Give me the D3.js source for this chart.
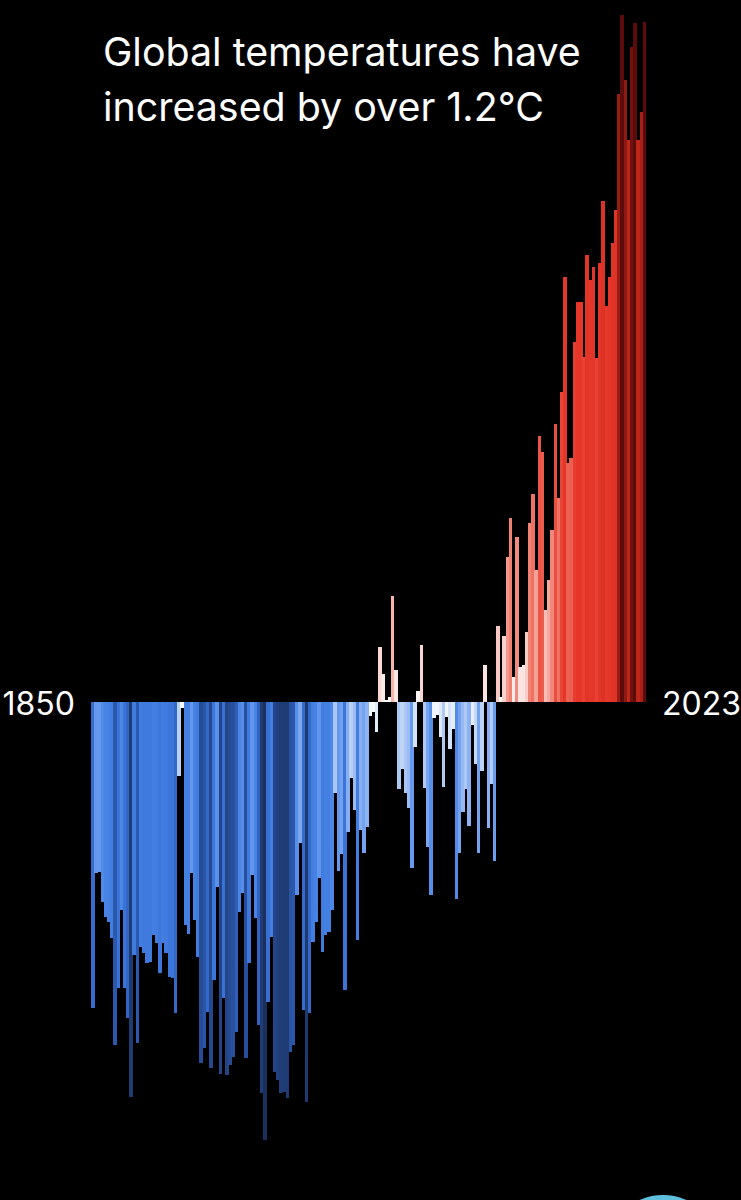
<!DOCTYPE html>
<html>
<head>
<meta charset="utf-8">
<script src="https://cdn.jsdelivr.net/npm/d3@7"></script>
<style>
  html, body { margin: 0; padding: 0; background: #000; }
  svg { display: block; }
</style>
</head>
<body>
<svg id="chart" width="741" height="1200"></svg>
<script>
// ---- data (HadCRUT-style annual global temperature anomaly, °C) ----
const firstYear = 1850;
const lastYear = 2023;
const years = d3.range(firstYear, lastYear + 1);
const anomalies = [
  -0.419, -0.234, -0.233, -0.274, -0.295, -0.301, -0.323, -0.470, -0.392, -0.285,
  -0.392, -0.433, -0.541, -0.347, -0.467, -0.336, -0.344, -0.358, -0.356, -0.319,
  -0.330, -0.371, -0.330, -0.344, -0.377, -0.378, -0.426, -0.101, -0.008, -0.305,
  -0.318, -0.234, -0.299, -0.349, -0.495, -0.474, -0.425, -0.501, -0.381, -0.253,
  -0.510, -0.405, -0.511, -0.497, -0.486, -0.452, -0.288, -0.262, -0.488, -0.358,
  -0.237, -0.296, -0.442, -0.536, -0.600, -0.411, -0.322, -0.507, -0.518, -0.536,
  -0.534, -0.542, -0.479, -0.470, -0.264, -0.193, -0.422, -0.548, -0.426, -0.329,
  -0.301, -0.241, -0.342, -0.319, -0.315, -0.285, -0.125, -0.232, -0.208, -0.395,
  -0.178, -0.104, -0.148, -0.326, -0.175, -0.207, -0.171, -0.019, -0.014, -0.041,
   0.075,  0.038,  0.003,  0.007,  0.145,  0.044, -0.119, -0.092, -0.125, -0.145,
  -0.227, -0.062,  0.015,  0.078, -0.118, -0.199, -0.264, -0.022, -0.018, -0.048,
  -0.116, -0.021, -0.064, -0.037, -0.270, -0.207, -0.151, -0.119, -0.170, -0.032,
  -0.085, -0.207, -0.095,  0.051, -0.173, -0.112, -0.218,  0.104,  0.007,  0.090,
   0.199,  0.252,  0.034,  0.226,  0.048,  0.051,  0.096,  0.245,  0.285,  0.181,
   0.364,  0.342,  0.126,  0.167,  0.236,  0.381,  0.279,  0.425,  0.582,  0.327,
   0.334,  0.493,  0.548,  0.548,  0.473,  0.612,  0.578,  0.596,  0.471,  0.601,
   0.686,  0.542,  0.582,  0.629,  0.674,  0.833,  0.941,  0.852,  0.770,  0.897,
   0.930,  0.770,  0.808,  0.932
];
const titleLines = ["Global temperatures have", "increased by over 1.2°C"];
const endLabels = [String(firstYear), String(lastYear)];

// colour stops (value in °C -> colour)
const colorStops = [-0.60, -0.52, -0.47, -0.40, -0.30, -0.22, -0.12, -0.05, 0,
                     0.05, 0.10, 0.20, 0.30, 0.40, 0.55, 0.70, 0.78, 0.85, 0.93];
const colorRange = ["#1b2f5c", "#213f7c", "#2b58ad", "#3a73d8", "#4682e4", "#6a9cef", "#adc8f4", "#dde8fa", "#ffffff",
                    "#fbe3e0", "#f8cbc5", "#f3978b", "#ee6a5b", "#e9483a", "#e6372a", "#dc3226", "#b82419", "#8e1a13", "#5c0c0b"];

// ---- drawing ----
const svg = d3.select("#chart");
svg.append("rect").attr("width", 741).attr("height", 1200).attr("fill", "#000");

const x = d3.scaleBand().domain(years).range([91, 646]).padding(0);
const y = d3.scaleLinear().domain([-0.6, 0.941]).range([1140, 15]);
const color = d3.scaleLinear().domain(colorStops).range(colorRange).clamp(true);

const data = years.map((yr, i) => ({ year: yr, value: anomalies[i] }));

svg.append("g")
  .selectAll("rect")
  .data(data)
  .join("rect")
  .attr("x", d => x(d.year))
  .attr("width", x.bandwidth() + 0.35)
  .attr("y", d => Math.min(y(d.value), y(0)))
  .attr("height", d => Math.abs(y(d.value) - y(0)))
  .attr("fill", d => color(d.value))
  .attr("shape-rendering", "crispEdges");

// title
const fontFam = "Inter, 'Noto Sans', 'Liberation Sans', sans-serif";
const title = svg.append("g");
const t1 = title.append("text")
  .attr("x", 103).attr("y", 66)
  .attr("fill", "#fff")
  .style("font-family", fontFam)
  .style("font-size", "40px")
  .text(titleLines[0]);
const w1 = t1.node().getComputedTextLength();
const fs = 40 * 478 / w1;
t1.style("font-size", fs + "px");
title.append("text")
  .attr("x", 103).attr("y", 121)
  .attr("fill", "#fff")
  .style("font-family", fontFam)
  .style("font-size", fs + "px")
  .text(titleLines[1]);

// end labels
svg.append("text")
  .attr("x", 75).attr("y", 715)
  .attr("text-anchor", "end")
  .attr("fill", "#fff")
  .style("font-family", fontFam)
  .style("font-size", "32px")
  .text(endLabels[0]);
svg.append("text")
  .attr("x", 662).attr("y", 715)
  .attr("text-anchor", "start")
  .attr("fill", "#fff")
  .style("font-family", fontFam)
  .style("font-size", "32px")
  .text(endLabels[1]);

// partially visible round badge at the bottom edge
svg.append("circle")
  .attr("cx", 663).attr("cy", 1253).attr("r", 58)
  .attr("fill", "#5fc0de");
</script>
</body>
</html>
